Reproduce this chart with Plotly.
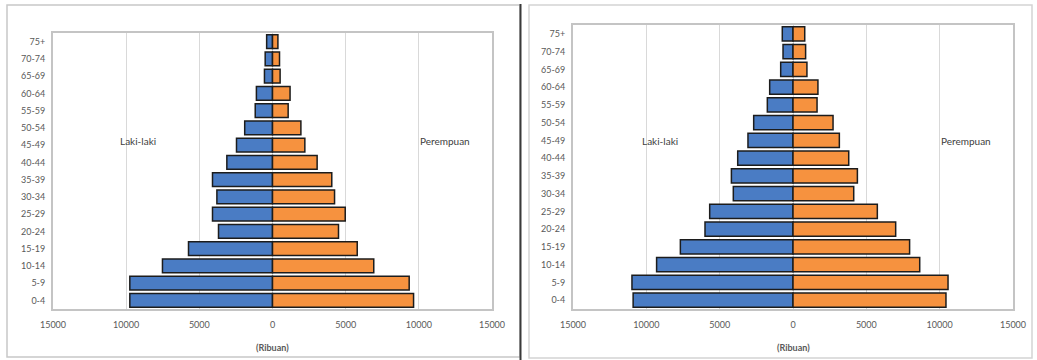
import plotly.graph_objects as go

W, H = 1037, 360

age_groups = ["0-4", "5-9", "10-14", "15-19", "20-24", "25-29", "30-34", "35-39",
              "40-44", "45-49", "50-54", "55-59", "60-64", "65-69", "70-74", "75+"]

# Population in thousands (Ribuan)
male_a = [9750, 9750, 7520, 5740, 3690, 4100, 3800, 4100, 3120, 2460, 1900, 1180, 1100, 550, 500, 400]
female_a = [9640, 9340, 6920, 5790, 4510, 4970, 4240, 4050, 3050, 2210, 1940, 1070, 1200, 520, 480, 370]

male_b = [10900, 10980, 9300, 7680, 6000, 5680, 4070, 4200, 3770, 3070, 2680, 1750, 1590, 840, 680, 730]
female_b = [10430, 10570, 8640, 7950, 7000, 5750, 4140, 4390, 3800, 3160, 2730, 1640, 1700, 950, 860, 800]

tick_vals = [-15000, -10000, -5000, 0, 5000, 10000, 15000]
tick_text = ["15000", "10000", "5000", "0", "5000", "10000", "15000"]

BLUE = "#4a7cc4"
ORANGE = "#f6923f"
EDGE = "#1c1c1c"
FONT = "Lato, 'Open Sans', sans-serif"
GREY_TXT = "#595959"

fig = go.Figure()

for xa, ya, male, female in [("x", "y", male_a, female_a), ("x2", "y2", male_b, female_b)]:
    fig.add_trace(go.Bar(
        y=age_groups, x=[-v for v in male], orientation="h",
        marker=dict(color=BLUE, line=dict(color=EDGE, width=1.5)),
        xaxis=xa, yaxis=ya, name="Laki-laki", showlegend=False,
    ))
    fig.add_trace(go.Bar(
        y=age_groups, x=female, orientation="h",
        marker=dict(color=ORANGE, line=dict(color=EDGE, width=1.5)),
        xaxis=xa, yaxis=ya, name="Perempuan", showlegend=False,
    ))

def px_x(p):
    return p / W

def px_y(p):
    return 1 - p / H

xaxis_common = dict(
    range=[-15000, 15000], tickvals=tick_vals, ticktext=tick_text,
    showgrid=True, gridcolor="#d9d9d9", gridwidth=1,
    zeroline=False, showline=True, linecolor="#c4c4c4", linewidth=2, mirror=True,
    ticks="", ticklabelstandoff=6, automargin=False,
    tickfont=dict(family=FONT, size=9, color=GREY_TXT), fixedrange=True,
)
yaxis_common = dict(
    type="category", showgrid=False, zeroline=False,
    showline=True, linecolor="#c4c4c4", linewidth=2, mirror=True,
    ticks="", ticklabelstandoff=4, automargin=False,
    tickfont=dict(family=FONT, size=9, color=GREY_TXT), fixedrange=True,
)

fig.update_layout(
    width=W, height=H,
    margin=dict(l=0, r=0, t=0, b=0),
    paper_bgcolor="white", plot_bgcolor="white",
    barmode="relative", bargap=0.2,
    xaxis=dict(domain=[px_x(53), px_x(492)], anchor="y", **xaxis_common),
    yaxis=dict(domain=[px_y(309), px_y(33)], anchor="x", **yaxis_common),
    xaxis2=dict(domain=[px_x(573), px_x(1013)], anchor="y2", **xaxis_common),
    yaxis2=dict(domain=[px_y(309), px_y(25)], anchor="x2", **yaxis_common),
)

# Panel frames
shapes = [
    dict(type="rect", xref="paper", yref="paper",
         x0=px_x(7), x1=px_x(520), y0=px_y(357), y1=px_y(5),
         line=dict(color="#c8c8c8", width=1.5)),
    dict(type="line", xref="paper", yref="paper",
         x0=px_x(520.5), x1=px_x(520.5), y0=0, y1=px_y(4),
         line=dict(color="#3a3a3a", width=2)),
    dict(type="rect", xref="paper", yref="paper",
         x0=px_x(529), x1=px_x(1032), y0=px_y(358), y1=px_y(5),
         line=dict(color="#d4d4d4", width=1.5)),
]
fig.update_layout(shapes=shapes)

ann_font = dict(family=FONT, size=10, color="#404040")
annotations = []
for cx, ix, lx, rx in [(272, 347, 138, 445), (793, 347, 660, 966)]:
    annotations.append(dict(text="<b>(Ribuan)</b>", x=px_x(cx), y=px_y(ix),
                            xref="paper", yref="paper", showarrow=False,
                            xanchor="center", yanchor="middle",
                            font=dict(family=FONT, size=9, color=GREY_TXT)))
    annotations.append(dict(text="Laki-laki", x=px_x(lx), y=px_y(141),
                            xref="paper", yref="paper", showarrow=False,
                            xanchor="center", yanchor="middle", font=ann_font))
    annotations.append(dict(text="Perempuan", x=px_x(rx), y=px_y(141),
                            xref="paper", yref="paper", showarrow=False,
                            xanchor="center", yanchor="middle", font=ann_font))
fig.update_layout(annotations=annotations)

fig.write_html("out.html")
